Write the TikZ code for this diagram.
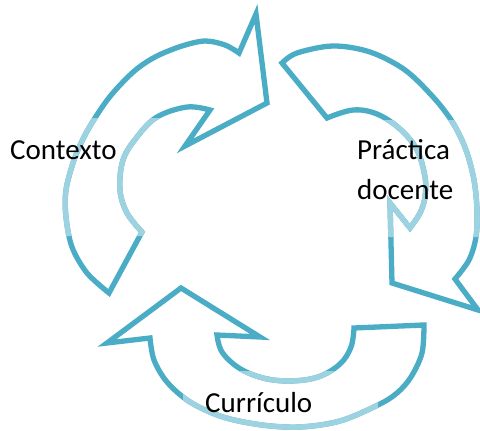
\documentclass[tikz,border=0pt]{standalone}
\usepackage{fontspec}
\setmainfont{Carlito}
\definecolor{arrowdark}{HTML}{4BACC6}
\definecolor{arrowlight}{HTML}{9DD2E0}
\begin{document}
\begin{tikzpicture}[x=1pt,y=-1pt,
  arrowline/.style={line width=5.3pt, line join=miter, miter limit=10},
  lbl/.style={font=\fontsize{29}{40}\selectfont, inner sep=0pt, text=black}]
\useasboundingbox (0,0) rectangle (480,431);
% Contexto arrow
\path[save path=\pathA]
  plot[smooth, tension=0.55] coordinates {(109,293) (87,273) (72,247) (66,217) (66,190) (74,160) (84,137) (95,118) (108,99) (122,83) (138,68) (157,56) (182,46) (205,41) (225,45) (239,53)}
  -- (256,14) -- (267,103) -- (185,146)
  -- plot[smooth, tension=0.6] coordinates {(210,110) (187,107) (157,117) (137,137) (123,160) (120,190) (127,213) (142,232)}
  -- cycle;
% Practica docente arrow
\path[save path=\pathB]
  plot[smooth, tension=0.55] coordinates {(282,63) (297,53) (333,46) (370,52) (405,70) (434,98) (453,123) (466,150) (474,180) (477,210) (476,237) (469,260) (455,279)}
  -- (478,310) -- (392,283) -- (390,203)
  -- plot[smooth, tension=0.6] coordinates {(410,228) (420,213) (425,197) (425,177) (417,150) (400,129) (377,114) (353,110) (327,118)}
  -- cycle;
% Curriculo arrow
\path[save path=\pathC]
  plot[smooth, tension=0.55] coordinates {(424,325) (422,353) (411,377) (397,393) (378,405) (340,421) (300,427) (262,425) (223,417) (190,402) (167,382) (154,360) (150,338)}
  -- (107,343) -- (181,288) -- (260,337)
  -- plot[smooth, tension=0.6] coordinates {(217,335) (222,352) (239,368) (263,378) (290,381) (318,377) (340,364) (351,347) (354,328)}
  -- cycle;
\draw[arrowline, arrowdark, use path=\pathA];
\draw[arrowline, arrowdark, use path=\pathB];
\draw[arrowline, arrowdark, use path=\pathC];
\begin{scope}
  \clip (0,118) rectangle (160,236) (345,120) rectangle (480,237) (183,371) rectangle (378,431);
  \draw[arrowline, arrowlight, use path=\pathA];
  \draw[arrowline, arrowlight, use path=\pathB];
  \draw[arrowline, arrowlight, use path=\pathC];
\end{scope}
\node[lbl, anchor=base west] (ctx) at (10,159) {Contexto};
\node[lbl, anchor=base west, align=left] (prac) at (357,199) {Práctica\\docente};
\node[lbl, anchor=base west] (curr) at (205,412) {Currículo};
\end{tikzpicture}
\end{document}
